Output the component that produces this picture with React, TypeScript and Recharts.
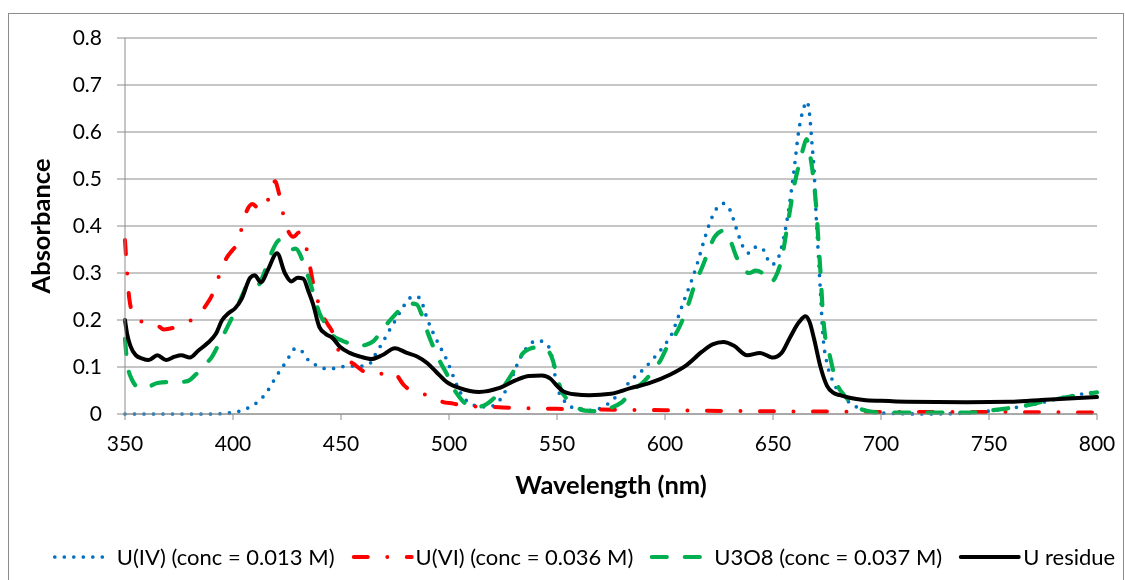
import { CartesianGrid, Line, LineChart, XAxis, YAxis } from "recharts";

type Pt = [number, number];

// wavelength (nm), absorbance
const wavelengthTicks = [350, 400, 450, 500, 550, 600, 650, 700, 750, 800];
const absorbanceTicks = [0, 0.1, 0.2, 0.3, 0.4, 0.5, 0.6, 0.7, 0.8];

const uIV: Pt[] = [
  [350, 0], [360, 0], [370, 0], [380, 0], [390, 0], [398, 0.002], [403, 0.006], [407, 0.013],
  [411, 0.024], [414, 0.037], [417, 0.056], [420, 0.08], [423, 0.1], [426, 0.122], [429, 0.14],
  [432, 0.133], [435, 0.114], [438, 0.105], [442, 0.097], [447, 0.097], [451, 0.101], [456, 0.102],
  [460, 0.102], [464, 0.11], [466, 0.128], [469, 0.15], [472, 0.175], [475, 0.198], [478, 0.222],
  [481, 0.242], [483, 0.25], [485, 0.25], [487, 0.243], [489, 0.215], [491, 0.19], [494, 0.16],
  [497, 0.133], [499, 0.115], [502, 0.08], [506, 0.04], [510, 0.022], [514, 0.016], [518, 0.015],
  [522, 0.022], [525, 0.04], [529, 0.076], [532, 0.11], [535, 0.135], [538, 0.151], [541, 0.156],
  [544, 0.153], [546.5, 0.14], [548, 0.115], [549.5, 0.07], [551, 0.045], [553, 0.03], [556, 0.017],
  [559, 0.01], [565, 0.008], [570, 0.012], [576, 0.031], [580, 0.05], [585, 0.075], [590, 0.095],
  [595, 0.12], [600, 0.148], [603, 0.169], [606, 0.205], [609, 0.244], [612, 0.28], [615, 0.321],
  [618, 0.368], [621, 0.41], [624, 0.438], [627, 0.448], [630, 0.435], [633, 0.395], [636, 0.357],
  [639, 0.342], [642, 0.355], [645, 0.353], [647, 0.334], [649.5, 0.318], [652, 0.328],
  [654.5, 0.365], [657, 0.427], [659.5, 0.51], [662, 0.605], [664, 0.648], [665.7, 0.665],
  [667, 0.635], [668, 0.578], [669, 0.52], [670, 0.42], [671, 0.34], [672, 0.257], [673, 0.175],
  [675, 0.108], [677, 0.078], [680, 0.05], [684, 0.03], [690, 0.012], [695, 0.005], [700, 0.002],
  [720, 0], [740, 0.002], [756, 0.01], [765, 0.016], [774, 0.024], [787, 0.038], [800, 0.047],
];

const uVI: Pt[] = [
  [350, 0.37], [351, 0.3], [352, 0.245], [354, 0.21], [357, 0.197], [361, 0.196], [364, 0.193],
  [368, 0.18], [372, 0.183], [376, 0.19], [380, 0.198], [384, 0.21], [387, 0.228], [391, 0.26],
  [394, 0.3], [397, 0.332], [400, 0.35], [402, 0.362], [404, 0.395], [406, 0.428], [409, 0.447],
  [412, 0.436], [414, 0.435], [417, 0.465], [419.5, 0.495], [421, 0.475], [423, 0.43], [425.5, 0.39],
  [428, 0.377], [430.5, 0.386], [433, 0.37], [435, 0.33], [437, 0.28], [439, 0.245], [441, 0.215],
  [444, 0.19], [446, 0.175], [449.5, 0.128], [452, 0.115], [455, 0.109], [460, 0.092], [465, 0.083],
  [470, 0.087], [474, 0.09], [479, 0.062], [484, 0.045], [488, 0.042], [492, 0.04], [497, 0.026],
  [502, 0.022], [506, 0.018], [512, 0.016], [520, 0.015], [530, 0.013], [540, 0.012], [550, 0.011],
  [560, 0.01], [580, 0.009], [600, 0.008], [640, 0.006], [680, 0.005], [720, 0.004], [760, 0.004],
  [800, 0.003],
];

const u3o8: Pt[] = [
  [350, 0.16], [351, 0.11], [353, 0.075], [357, 0.055], [361, 0.058], [365, 0.066], [370, 0.068],
  [375, 0.068], [379, 0.07], [383, 0.085], [387, 0.105], [390, 0.12], [393, 0.145], [396, 0.172],
  [399, 0.2], [402, 0.228], [405, 0.26], [407, 0.278], [409, 0.28], [411.6, 0.275], [414, 0.295],
  [416, 0.32], [418, 0.345], [421.5, 0.37], [424, 0.36], [427, 0.35], [429, 0.352], [431, 0.34],
  [433, 0.315], [435, 0.29], [437, 0.26], [440, 0.215], [443, 0.19], [446, 0.168], [450, 0.157],
  [454, 0.15], [458, 0.145], [462, 0.148], [465, 0.155], [468, 0.172], [471, 0.19], [474, 0.206],
  [478, 0.225], [482, 0.235], [485, 0.233], [487.5, 0.21], [490, 0.175], [493, 0.14], [496, 0.11],
  [499, 0.085], [502, 0.055], [505, 0.035], [509, 0.018], [513, 0.015], [517, 0.02], [520, 0.03],
  [524, 0.05], [527, 0.07], [531, 0.1], [534, 0.128], [537, 0.138], [541, 0.142], [545, 0.138],
  [548, 0.115], [550, 0.08], [552, 0.05], [555, 0.03], [559, 0.015], [563, 0.007], [568, 0.006],
  [574, 0.012], [580, 0.025], [585, 0.05], [590, 0.068], [595, 0.095], [598, 0.115], [601, 0.143],
  [606, 0.179], [609, 0.21], [611.5, 0.243], [614, 0.279], [617, 0.31], [620, 0.345], [623, 0.377],
  [627, 0.39], [630, 0.372], [633, 0.335], [636, 0.31], [639, 0.3], [642, 0.305], [645, 0.3],
  [648.6, 0.28], [651, 0.29], [654, 0.33], [657, 0.41], [660, 0.49], [662, 0.53], [664, 0.565],
  [665.5, 0.585], [667, 0.555], [669, 0.49], [670, 0.44], [671, 0.37], [672, 0.3], [673, 0.22],
  [674, 0.17], [676, 0.13], [678, 0.09], [680, 0.06], [683, 0.04], [686, 0.025], [690, 0.012],
  [695, 0.005], [700, 0.003], [740, 0.003], [755, 0.01], [763, 0.015], [768, 0.019], [775, 0.026],
  [785, 0.035], [800, 0.046],
];

const uResidue: Pt[] = [
  [350, 0.2], [351, 0.17], [352.5, 0.145], [355, 0.125], [358, 0.118], [361, 0.115], [365, 0.125],
  [369, 0.115], [373, 0.122], [376, 0.125], [380, 0.12], [384, 0.135], [388, 0.15], [392, 0.17],
  [395, 0.2], [398, 0.215], [401, 0.225], [404, 0.245], [408, 0.29], [410, 0.295], [413, 0.28],
  [416, 0.305], [420.4, 0.342], [424, 0.3], [427, 0.282], [430, 0.29], [432.5, 0.288], [435, 0.26],
  [437, 0.235], [440, 0.185], [443, 0.17], [446, 0.162], [449.5, 0.143], [454, 0.13], [459, 0.122],
  [464, 0.117], [469, 0.125], [475, 0.14], [480.5, 0.13], [485, 0.123], [490, 0.108], [494, 0.09],
  [499, 0.068], [505, 0.055], [514, 0.047], [523, 0.055], [531, 0.072], [537, 0.081], [543, 0.082],
  [547, 0.075], [550, 0.06], [553, 0.048], [558, 0.042], [565, 0.04], [575, 0.043], [584, 0.055],
  [593, 0.066], [602, 0.083], [610, 0.104], [617, 0.132], [622, 0.148], [627, 0.153], [632, 0.145],
  [638, 0.125], [644, 0.13], [650, 0.12], [654, 0.13], [658, 0.164], [662, 0.195], [665, 0.208],
  [667, 0.195], [669, 0.16], [672, 0.1], [675, 0.06], [678, 0.045], [681, 0.04], [686, 0.034],
  [692, 0.03], [700, 0.028], [712, 0.026], [740, 0.025], [760, 0.026], [774, 0.03], [787, 0.033],
  [800, 0.036],
];

const series = [
  { name: "U(IV) (conc = 0.013 M)", points: uIV, color: "#0070C0", dash: "0 9.5", width: 3.7, iconEnd: 58 },
  { name: "U(VI) (conc = 0.036 M)", points: uVI, color: "#FF0000", dash: "14 19.5 0 19.5", width: 4, iconEnd: 62 },
  { name: "U3O8 (conc = 0.037 M)", points: u3o8, color: "#00B050", dash: "15 18", width: 4.2, iconEnd: 54 },
  { name: "U residue", points: uResidue, color: "#000000", dash: undefined, width: 4, iconEnd: 62 },
];

const GRID = "#8C8C8C";
const FONT = "Lato, 'Noto Sans', sans-serif";

const toRows = (pts: Pt[]) => pts.map(([wl, abs]) => ({ wl, abs }));

const XTitle = ({ viewBox }: any) => (
  <text
    x={viewBox.x + viewBox.width / 2}
    y={viewBox.y + 80}
    textAnchor="middle"
    fontFamily={FONT}
    fontWeight="bold"
    fontSize={25.5}
    fill="#000"
  >
    Wavelength (nm)
  </text>
);

const YTitle = ({ viewBox }: any) => {
  const cx = viewBox.x - 5;
  const cy = viewBox.y + viewBox.height / 2;
  return (
    <text
      x={cx}
      y={cy}
      transform={`rotate(-90 ${cx} ${cy})`}
      textAnchor="middle"
      dominantBaseline="central"
      fontFamily={FONT}
      fontWeight="bold"
      fontSize={25.5}
      fill="#000"
    >
      Absorbance
    </text>
  );
};

const App = () => {
  return (
    <div style={{ position: "relative", width: 1117, height: 564, overflow: "hidden", fontFamily: FONT }}>
      <div
        style={{
          position: "fixed",
          left: 8,
          top: 13,
          width: 1116,
          height: 620,
          border: `1px solid ${GRID}`,
          boxSizing: "border-box",
          pointerEvents: "none",
        }}
      />
      <LineChart width={1117} height={564} margin={{ top: 30, right: 28, left: 37, bottom: 98 }}>
        <CartesianGrid vertical={false} stroke={GRID} strokeWidth={1} />
        <XAxis
          dataKey="wl"
          type="number"
          domain={[350, 800]}
          ticks={wavelengthTicks}
          interval={0}
          height={60}
          stroke={GRID}
          tickSize={6}
          tickMargin={16}
          tick={{ fill: "#000", fontSize: 21, fontFamily: FONT }}
          label={<XTitle />}
        />
        <YAxis
          type="number"
          domain={[0, 0.8]}
          ticks={absorbanceTicks}
          interval={0}
          width={80}
          stroke={GRID}
          tickSize={8}
          tickMargin={15}
          tickFormatter={(v: number) => (v === 0 ? "0" : v.toFixed(1))}
          tick={{ fill: "#000", fontSize: 21, fontFamily: FONT }}
          label={<YTitle />}
        />
        {series.map((s) => (
          <Line
            key={s.name}
            data={toRows(s.points)}
            dataKey="abs"
            name={s.name}
            type="monotone"
            stroke={s.color}
            strokeWidth={s.width}
            strokeDasharray={s.dash}
            strokeLinecap="round"
            strokeLinejoin="round"
            dot={false}
            activeDot={false}
            isAnimationActive={false}
          />
        ))}
      </LineChart>
      <div
        style={{
          position: "absolute",
          left: 575,
          top: 535,
          transform: "translateX(-50%)",
          display: "flex",
          alignItems: "center",
          whiteSpace: "nowrap",
          fontSize: 22,
          color: "#000",
        }}
      >
        {series.map((s, i) => (
          <div
            key={s.name}
            style={{ display: "flex", alignItems: "center", marginRight: i === series.length - 1 ? 0 : 15 }}
          >
            <svg width={64} height={12} style={{ marginRight: 2 }}>
              <line
                x1={4}
                y1={6}
                x2={s.iconEnd}
                y2={6}
                stroke={s.color}
                strokeWidth={s.width}
                strokeDasharray={s.dash}
                strokeLinecap="round"
              />
            </svg>
            <span>{s.name}</span>
          </div>
        ))}
      </div>
    </div>
  );
};

export default App;
